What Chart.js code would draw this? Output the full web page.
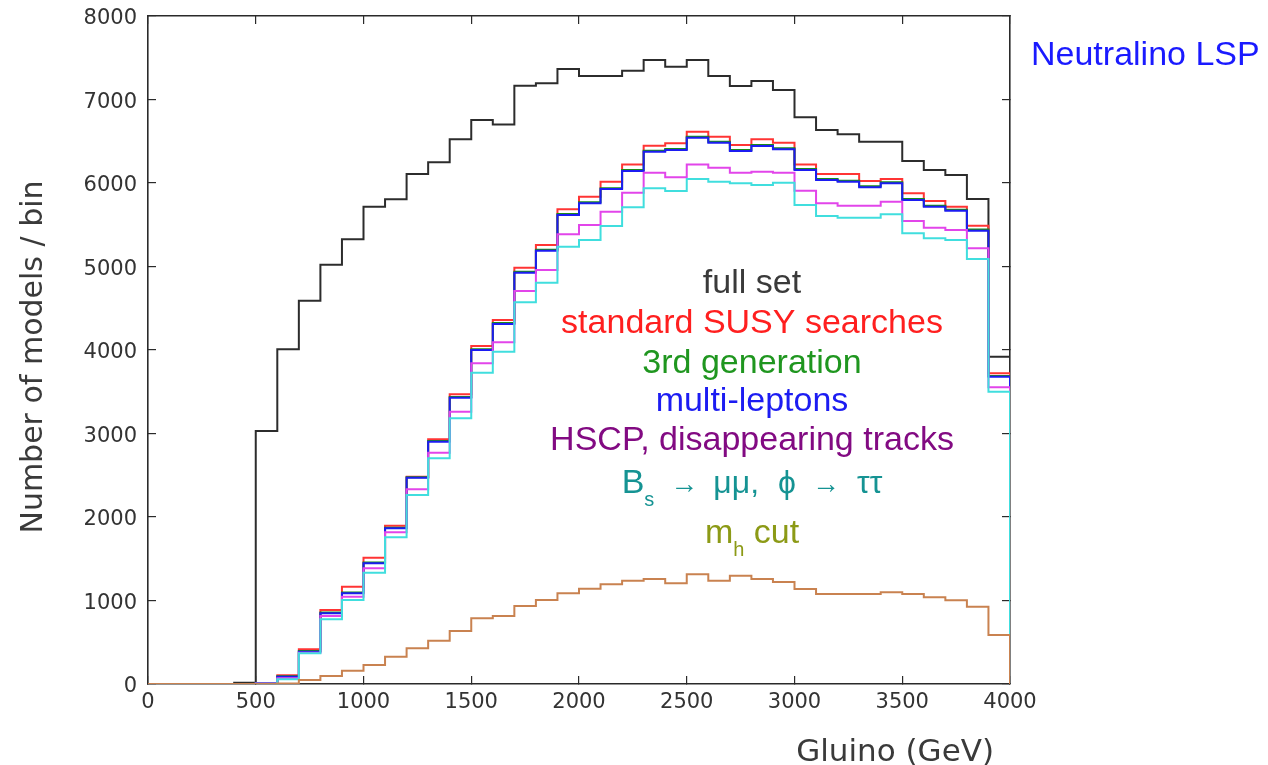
<!DOCTYPE html>
<html>
<head>
<meta charset="utf-8">
<title>Gluino mass distribution</title>
<script src="https://cdn.jsdelivr.net/npm/chart.js@4.4.1/dist/chart.umd.min.js"></script>
<style>
  html, body { margin: 0; padding: 0; background: #fff; }
  #wrap { position: relative; width: 1268px; height: 765px; }
</style>
</head>
<body>
<div id="wrap"><canvas id="hist"></canvas></div>
<script>
// bin edges in GeV (100 GeV bins)
const BIN_EDGES = [0, 100, 200, 300, 400, 500, 600, 700, 800, 900, 1000, 1100, 1200, 1300, 1400, 1500, 1600, 1700, 1800, 1900,
  2000, 2100, 2200, 2300, 2400, 2500, 2600, 2700, 2800, 2900, 3000, 3100, 3200, 3300, 3400, 3500, 3600, 3700, 3800, 3900, 4000];

const X_TICKS = [0, 500, 1000, 1500, 2000, 2500, 3000, 3500, 4000];
const Y_TICKS = [0, 1000, 2000, 3000, 4000, 5000, 6000, 7000, 8000];

// models per bin
const fullSet = [0, 0, 0, 0, 15, 3030, 4010, 4590, 5020, 5325, 5716, 5804, 6108, 6250, 6523, 6755, 6700, 7166, 7194, 7365,
  7281, 7281, 7345, 7473, 7393, 7473, 7281, 7162, 7222, 7114, 6786, 6635, 6583, 6495, 6495, 6263, 6156, 6096, 5808, 3920];
const susySearches = [0, 0, 0, 0, 0, 10, 105, 415, 886, 1165, 1513, 1896, 2483, 2930, 3469, 4048, 4359, 4986, 5257, 5685,
  5836, 6015, 6223, 6446, 6475, 6615, 6555, 6455, 6523, 6483, 6223, 6108, 6108, 6024, 6048, 5876, 5784, 5716, 5489, 3721];
const thirdGen = [0, 0, 0, 0, 0, 9, 92, 395, 855, 1096, 1455, 1872, 2476, 2910, 3438, 4010, 4322, 4936, 5200, 5628,
  5768, 5938, 6156, 6386, 6406, 6554, 6494, 6394, 6455, 6415, 6168, 6047, 6028, 5960, 6008, 5808, 5728, 5680, 5442, 3690];
const multiLeptons = [0, 0, 0, 0, 0, 8, 88, 387, 846, 1086, 1445, 1864, 2471, 2902, 3429, 4000, 4311, 4926, 5189, 5617,
  5757, 5928, 6144, 6375, 6395, 6543, 6483, 6383, 6443, 6403, 6156, 6036, 6016, 5948, 5996, 5796, 5716, 5668, 5429, 3681];
const hscpTracks = [0, 0, 0, 0, 0, 5, 68, 375, 814, 1046, 1385, 1816, 2331, 2770, 3261, 3840, 4092, 4707, 4958, 5385,
  5497, 5656, 5884, 6124, 6068, 6223, 6183, 6124, 6136, 6124, 5908, 5757, 5728, 5728, 5776, 5545, 5465, 5437, 5218, 3553];
const flavourCuts = [0, 0, 0, 0, 0, 4, 56, 367, 775, 1006, 1333, 1756, 2263, 2703, 3182, 3728, 3980, 4571, 4806, 5237,
  5317, 5485, 5709, 5936, 5904, 6048, 6016, 5996, 5976, 6004, 5737, 5605, 5585, 5585, 5625, 5397, 5337, 5317, 5090, 3501];
const higgsMassCut = [0, 0, 0, 0, 0, 0, 5, 48, 96, 160, 228, 327, 427, 519, 635, 787, 814, 934, 1006, 1086,
  1140, 1194, 1237, 1257, 1206, 1313, 1237, 1297, 1257, 1222, 1138, 1078, 1078, 1078, 1098, 1078, 1038, 1002, 926, 587];

const TICK_FONT = { family: 'DejaVu Sans', size: 21 };
const AXIS_COLOR = '#2a2a2a';
const LABEL_FONT = '"Liberation Sans", Arial, sans-serif';

// histogram outline: one point per left bin edge, closing back to zero at the last edge
function stepPoints(values) {
  return BIN_EDGES.map((edge, i) => ({ x: edge, y: i < values.length ? values[i] : 0 }));
}

function histSet(label, values, color, order) {
  return {
    label,
    data: stepPoints(values),
    borderColor: color,
    borderWidth: 2,
    stepped: 'before',
    pointRadius: 0,
    fill: false,
    order
  };
}

function axis(position, min, max, ticks, showLabels, size) {
  const horizontal = position === 'top' || position === 'bottom';
  return {
    type: 'linear',
    position,
    min,
    max,
    afterBuildTicks: s => { s.ticks = ticks.map(v => ({ value: v })); },
    ticks: {
      display: showLabels,
      color: '#333',
      font: TICK_FONT,
      padding: horizontal ? 14 : 19,
      labelOffset: horizontal ? 0 : 3,
      maxRotation: 0,
      autoSkip: false,
      callback: v => String(v)
    },
    grid: { drawOnChartArea: false, tickLength: -8, color: AXIS_COLOR, lineWidth: 1.2 },
    border: { color: AXIS_COLOR, width: 1.6 },
    afterFit: s => {
      if (horizontal) s.height = size; else s.width = size;
      // keep the plot frame fixed, labels may overhang the corners
      s.paddingTop = s.paddingBottom = s.paddingLeft = s.paddingRight = 0;
    }
  };
}

// one line of the in-plot legend: runs of text, some of them subscripts
const LEGEND_LINES = [
  { y: 293, color: '#3a3a3a', runs: [{ t: 'full set' }] },
  { y: 333, color: '#ff1f1f', runs: [{ t: 'standard SUSY searches' }] },
  { y: 373, color: '#1f961f', runs: [{ t: '3rd generation' }] },
  { y: 411, color: '#1c1cf2', runs: [{ t: 'multi-leptons' }] },
  { y: 450, color: '#820a82', runs: [{ t: 'HSCP, disappearing tracks' }] },
  { y: 493, color: '#159393', runs: [
    { t: 'B' }, { t: 's', sub: true },
    { t: '\u2192', size: 28, dx: 16 }, { t: '\u03bc\u03bc,', size: 32, dx: 15 },
    { t: '\u03d5', size: 32, dx: 19 }, { t: '\u2192', size: 28, dx: 16 },
    { t: '\u03c4\u03c4', size: 32, dx: 17 }
  ] },
  { y: 543, color: '#8c9a16', runs: [{ t: 'm' }, { t: 'h', sub: true }, { t: ' cut' }] }
];

function runFont(r) {
  return (r.size || (r.sub ? 20 : 34)) + 'px ' + LABEL_FONT;
}

const annotations = {
  id: 'annotations',
  afterDraw(chart) {
    const ctx = chart.ctx;
    ctx.save();

    // legend text, centred in the plot
    const cx = 752;
    LEGEND_LINES.forEach(line => {
      const widths = line.runs.map(r => {
        ctx.font = runFont(r);
        return ctx.measureText(r.t).width + (r.dx || 0);
      });
      let x = cx - widths.reduce((a, b) => a + b, 0) / 2;
      ctx.fillStyle = line.color;
      ctx.textBaseline = 'alphabetic';
      ctx.textAlign = 'left';
      line.runs.forEach((r, i) => {
        ctx.font = runFont(r);
        ctx.fillText(r.t, x + (r.dx || 0), line.y + (r.sub ? 13 : 0));
        x += widths[i];
      });
    });

    ctx.font = '34px ' + LABEL_FONT;
    ctx.fillStyle = '#1a1aff';
    ctx.fillText('Neutralino LSP', 1031, 65);

    // axis titles
    ctx.fillStyle = '#3a3a3a';
    ctx.font = '31px "DejaVu Sans", sans-serif';
    ctx.textAlign = 'right';
    ctx.fillText('Gluino (GeV)', 994, 761);

    ctx.translate(42, 357);
    ctx.rotate(-Math.PI / 2);
    ctx.textAlign = 'center';
    ctx.font = '30px "DejaVu Sans", sans-serif';
    ctx.fillText('Number of models / bin', 0, 0);
    ctx.restore();
  }
};

new Chart(document.getElementById('hist'), {
  type: 'line',
  data: {
    datasets: [
      histSet('m_h cut', higgsMassCut, '#c98250', 1),
      histSet('Bs -> mumu, phi -> tautau', flavourCuts, '#40dede', 2),
      histSet('HSCP, disappearing tracks', hscpTracks, '#e245ea', 3),
      histSet('multi-leptons', multiLeptons, '#1c1cf2', 4),
      histSet('3rd generation', thirdGen, '#1a8a1a', 5),
      histSet('standard SUSY searches', susySearches, '#ff3434', 6),
      histSet('full set', fullSet, '#2c2c2c', 7)
    ]
  },
  options: {
    responsive: true,
    maintainAspectRatio: false,
    animation: false,
    events: [],
    layout: { padding: 0 },
    plugins: { legend: { display: false }, tooltip: { enabled: false } },
    scales: {
      x: axis('bottom', 0, 4000, X_TICKS, true, 81),
      xTop: axis('top', 0, 4000, X_TICKS, false, 16),
      y: axis('left', 0, 8000, Y_TICKS, true, 148),
      yRight: axis('right', 0, 8000, Y_TICKS, false, 258)
    }
  },
  plugins: [annotations]
});
</script>
</body>
</html>
